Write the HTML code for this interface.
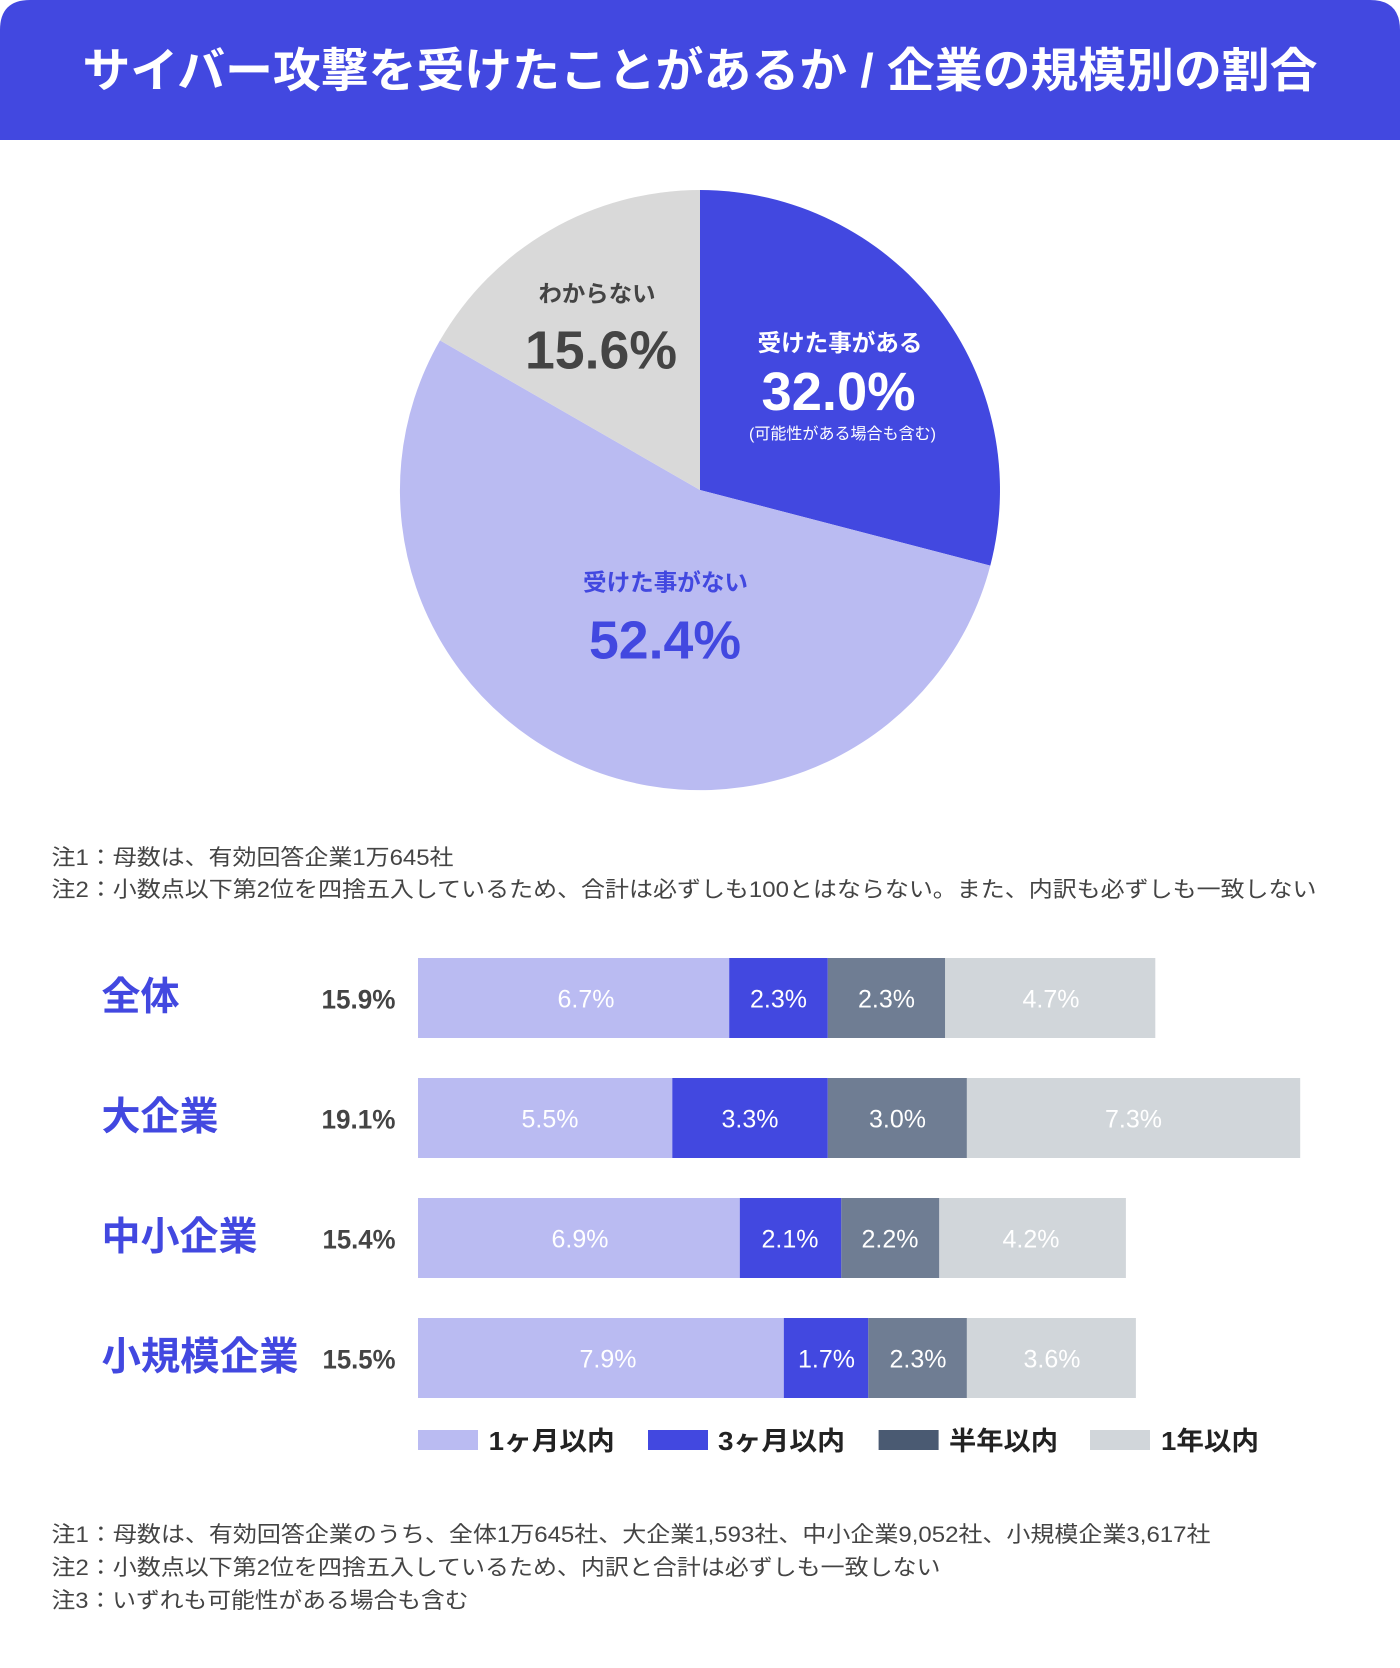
<!DOCTYPE html>
<html lang="ja">
<head>
<meta charset="utf-8">
<style>
  html, body { margin: 0; padding: 0; background: #ffffff; }
  body { width: 1400px; height: 1668px; overflow: hidden; }
  svg { display: block; }
  text { font-family: "Liberation Sans", "Noto Sans CJK JP", sans-serif; }
</style>
</head>
<body>
<svg width="1400" height="1668" viewBox="0 0 1400 1668" xmlns="http://www.w3.org/2000/svg">
  <rect x="0" y="0" width="1400" height="1668" fill="#ffffff"/>

  <!-- Header -->
  <path d="M0,30 Q0,0 30,0 L1370,0 Q1400,0 1400,30 L1400,140 L0,140 Z" fill="#4248E0"/>
  <text x="700" y="87" text-anchor="middle" font-size="47" font-weight="bold" fill="#ffffff" textLength="1235" lengthAdjust="spacingAndGlyphs">サイバー攻撃を受けたことがあるか / 企業の規模別の割合</text>

  <!-- Pie -->
  <path d="M700,490 L700,190 A300,300 0 0 1 990.3,565.6 Z" fill="#4248E0"/>
  <path d="M700,490 L990.3,565.6 A300,300 0 1 1 440.0,340.4 Z" fill="#BABBF2"/>
  <path d="M700,490 L440.0,340.4 A300,300 0 0 1 700,190 Z" fill="#D9D9D9"/>

  <text x="597" y="301.5" text-anchor="middle" font-size="23" font-weight="bold" fill="#444444" textLength="117" lengthAdjust="spacingAndGlyphs">わからない</text>
  <text x="601" y="368.5" text-anchor="middle" font-size="54" font-weight="bold" fill="#444444" textLength="152" lengthAdjust="spacingAndGlyphs">15.6%</text>

  <text x="840" y="351" text-anchor="middle" font-size="23.5" font-weight="bold" fill="#ffffff" textLength="165" lengthAdjust="spacingAndGlyphs">受けた事がある</text>
  <text x="838.5" y="410" text-anchor="middle" font-size="54" font-weight="bold" fill="#ffffff" textLength="154" lengthAdjust="spacingAndGlyphs">32.0%</text>
  <text x="842.5" y="439" text-anchor="middle" font-size="16" fill="#ffffff" textLength="187" lengthAdjust="spacingAndGlyphs">(可能性がある場合も含む)</text>

  <text x="665.5" y="590.5" text-anchor="middle" font-size="23.5" font-weight="bold" fill="#4248E0" textLength="165" lengthAdjust="spacingAndGlyphs">受けた事がない</text>
  <text x="665" y="658.5" text-anchor="middle" font-size="54" font-weight="bold" fill="#4248E0" textLength="152" lengthAdjust="spacingAndGlyphs">52.4%</text>

  <!-- Notes under pie -->
  <text x="51.5" y="865" font-size="22" fill="#444444" textLength="402" lengthAdjust="spacingAndGlyphs">注1：母数は、有効回答企業1万645社</text>
  <text x="51.5" y="897" font-size="22" fill="#444444" textLength="1265" lengthAdjust="spacingAndGlyphs">注2：小数点以下第2位を四捨五入しているため、合計は必ずしも100とはならない。また、内訳も必ずしも一致しない</text>

  <!-- Bar chart rows -->
  <!-- Row 1 -->
  <text x="101.5" y="1010" font-size="39" font-weight="bold" fill="#4248E0" textLength="78" lengthAdjust="spacingAndGlyphs">全体</text>
  <text x="395.5" y="1008.3" text-anchor="end" font-size="27" font-weight="bold" fill="#444444" textLength="74" lengthAdjust="spacingAndGlyphs">15.9%</text>
  <rect x="418" y="958" width="311.2" height="80" fill="#BABBF2"/>
  <rect x="729.2" y="958" width="98.6" height="80" fill="#4248E0"/>
  <rect x="827.8" y="958" width="117.4" height="80" fill="#6F7D93"/>
  <rect x="945.2" y="958" width="210.1" height="80" fill="#D1D6DA"/>
  <g font-size="25" fill="#ffffff" text-anchor="middle">
    <text x="586" y="1007.3">6.7%</text>
    <text x="778.5" y="1007.3">2.3%</text>
    <text x="886.5" y="1007.3">2.3%</text>
    <text x="1051" y="1007.3">4.7%</text>
  </g>

  <!-- Row 2 -->
  <text x="101.5" y="1130" font-size="39" font-weight="bold" fill="#4248E0" textLength="117" lengthAdjust="spacingAndGlyphs">大企業</text>
  <text x="395.5" y="1128.3" text-anchor="end" font-size="27" font-weight="bold" fill="#444444" textLength="74" lengthAdjust="spacingAndGlyphs">19.1%</text>
  <rect x="418" y="1078" width="254.3" height="80" fill="#BABBF2"/>
  <rect x="672.3" y="1078" width="155.5" height="80" fill="#4248E0"/>
  <rect x="827.8" y="1078" width="139.1" height="80" fill="#6F7D93"/>
  <rect x="966.9" y="1078" width="333.3" height="80" fill="#D1D6DA"/>
  <g font-size="25" fill="#ffffff" text-anchor="middle">
    <text x="550" y="1127.3">5.5%</text>
    <text x="750" y="1127.3">3.3%</text>
    <text x="897.5" y="1127.3">3.0%</text>
    <text x="1133.5" y="1127.3">7.3%</text>
  </g>

  <!-- Row 3 -->
  <text x="101.5" y="1250" font-size="39" font-weight="bold" fill="#4248E0" textLength="156" lengthAdjust="spacingAndGlyphs">中小企業</text>
  <text x="395.5" y="1248.3" text-anchor="end" font-size="27" font-weight="bold" fill="#444444" textLength="73" lengthAdjust="spacingAndGlyphs">15.4%</text>
  <rect x="418" y="1198" width="321.8" height="80" fill="#BABBF2"/>
  <rect x="739.8" y="1198" width="101.5" height="80" fill="#4248E0"/>
  <rect x="841.3" y="1198" width="98" height="80" fill="#6F7D93"/>
  <rect x="939.3" y="1198" width="186.6" height="80" fill="#D1D6DA"/>
  <g font-size="25" fill="#ffffff" text-anchor="middle">
    <text x="580" y="1247.3">6.9%</text>
    <text x="790" y="1247.3">2.1%</text>
    <text x="890" y="1247.3">2.2%</text>
    <text x="1031" y="1247.3">4.2%</text>
  </g>

  <!-- Row 4 -->
  <text x="101.5" y="1370" font-size="39" font-weight="bold" fill="#4248E0" textLength="197" lengthAdjust="spacingAndGlyphs">小規模企業</text>
  <text x="395.5" y="1368.3" text-anchor="end" font-size="27" font-weight="bold" fill="#444444" textLength="73" lengthAdjust="spacingAndGlyphs">15.5%</text>
  <rect x="418" y="1318" width="365.8" height="80" fill="#BABBF2"/>
  <rect x="783.8" y="1318" width="84.5" height="80" fill="#4248E0"/>
  <rect x="868.3" y="1318" width="98.6" height="80" fill="#6F7D93"/>
  <rect x="966.9" y="1318" width="169" height="80" fill="#D1D6DA"/>
  <g font-size="25" fill="#ffffff" text-anchor="middle">
    <text x="608" y="1367.3">7.9%</text>
    <text x="826.5" y="1367.3">1.7%</text>
    <text x="918" y="1367.3">2.3%</text>
    <text x="1052" y="1367.3">3.6%</text>
  </g>

  <!-- Legend -->
  <rect x="418" y="1430" width="60" height="20" fill="#BABBF2"/>
  <text x="488.7" y="1450" font-size="26" font-weight="bold" fill="#222222" textLength="126" lengthAdjust="spacingAndGlyphs">1ヶ月以内</text>
  <rect x="648" y="1430" width="60" height="20" fill="#4248E0"/>
  <text x="718" y="1450" font-size="26" font-weight="bold" fill="#222222" textLength="127" lengthAdjust="spacingAndGlyphs">3ヶ月以内</text>
  <rect x="878.6" y="1430" width="60" height="20" fill="#4A5A72"/>
  <text x="949" y="1450" font-size="26" font-weight="bold" fill="#222222" textLength="109" lengthAdjust="spacingAndGlyphs">半年以内</text>
  <rect x="1090" y="1430" width="60" height="20" fill="#D1D6DA"/>
  <text x="1161" y="1450" font-size="26" font-weight="bold" fill="#222222" textLength="98" lengthAdjust="spacingAndGlyphs">1年以内</text>

  <!-- Bottom notes -->
  <text x="51.5" y="1542" font-size="22" fill="#444444" textLength="1159" lengthAdjust="spacingAndGlyphs">注1：母数は、有効回答企業のうち、全体1万645社、大企業1,593社、中小企業9,052社、小規模企業3,617社</text>
  <text x="51.5" y="1575" font-size="22" fill="#444444" textLength="889" lengthAdjust="spacingAndGlyphs">注2：小数点以下第2位を四捨五入しているため、内訳と合計は必ずしも一致しない</text>
  <text x="51.5" y="1608" font-size="22" fill="#444444" textLength="417" lengthAdjust="spacingAndGlyphs">注3：いずれも可能性がある場合も含む</text>
</svg>
</body>
</html>
